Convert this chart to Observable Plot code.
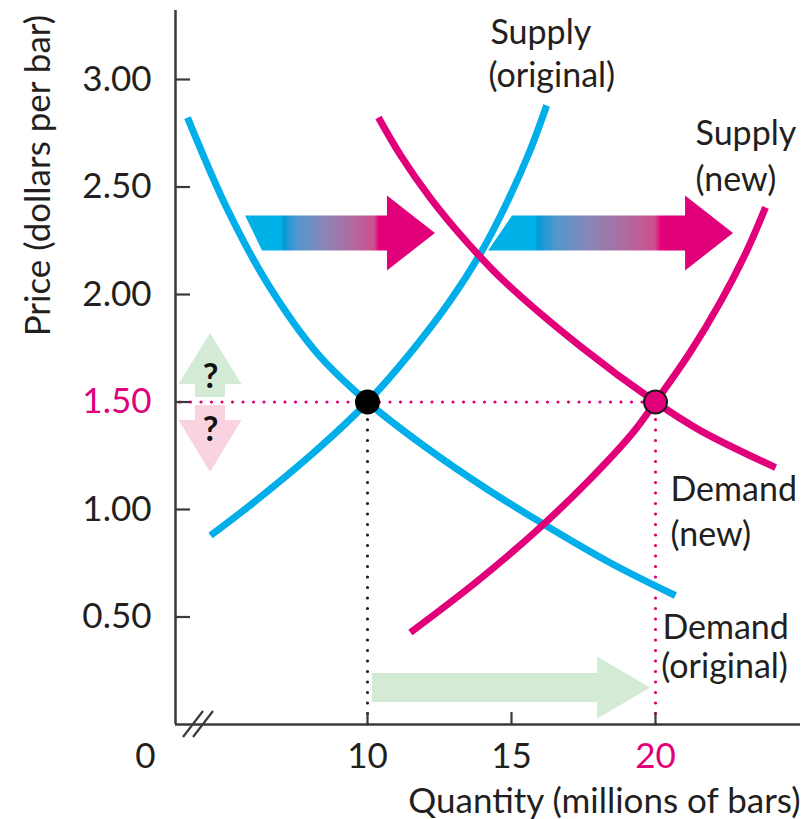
<!DOCTYPE html>
<html><head><meta charset="utf-8">
<script src="https://cdn.jsdelivr.net/npm/d3@7"></script>
<script src="https://cdn.jsdelivr.net/npm/@observablehq/plot@0.6"></script>
<style>body{margin:0;background:#fff} svg{display:block}</style>
</head><body><div id="chart"></div>
<script>
// ---------- data (quantity in millions of bars, price in dollars per bar) ----------
const supplyOrigQ = [4.55, 6.09, 8.18, 10, 11.53, 12.85, 13.96, 14.86, 15.63, 16.22];
const supplyOrigP = [0.879, 1.037, 1.270, 1.5, 1.735, 1.967, 2.2, 2.433, 2.665, 2.879];
const demandOrigQ = [3.75, 5.14, 6.53, 8.26, 10, 12.08, 14.17, 16.25, 18.47, 20.69];
const demandOrigP = [2.823, 2.395, 2.051, 1.726, 1.5, 1.284, 1.093, 0.921, 0.749, 0.6];
const supplyNewQ = [11.49, 13.75, 15.80, 17.62, 19.22, 20, 21.22, 22.26, 23.16, 23.82];
const supplyNewP = [0.428, 0.660, 0.893, 1.126, 1.358, 1.5, 1.735, 1.967, 2.2, 2.405];
const demandNewQ = [10.38, 11.15, 12.19, 13.40, 14.72, 17.40, 20, 21.56, 24.17];
const demandNewP = [2.823, 2.647, 2.447, 2.251, 2.065, 1.758, 1.5, 1.367, 1.195];

const equilibria = [{q: 10, p: 1.5, kind: "original"}, {q: 20, p: 1.5, kind: "new"}];
const yTicks = [0.5, 1.0, 1.5, 2.0, 2.5, 3.0];
const xTicks = [10, 15, 20];
const highlightTick = 1.5, highlightQ = 20;

// shift arrows (from quantity -> to quantity at price)
const shiftFrom = [6.06, 14.62], shiftTo = [12.36, 22.71], shiftPrice = 2.284;
const qtyArrow = {from: 10.17, to: 19.83, price: 0.17};
const priceArrowQ = 4.55;
const priceUp = {from: 1.521, to: 1.819}, priceDown = {from: 1.484, to: 1.172};
const questionP = [1.614, 1.367];

const labels = [
  {q: 14.27, p: 3.214, text: "Supply"}, {q: 14.2, p: 3.014, text: "(original)"},
  {q: 21.39, p: 2.744, text: "Supply"}, {q: 21.39, p: 2.530, text: "(new)"},
  {q: 20.52, p: 1.092, text: "Demand"}, {q: 20.52, p: 0.879, text: "(new)"},
  {q: 20.24, p: 0.447, text: "Demand"}, {q: 20.2, p: 0.265, text: "(original)"}
];
const xTitle = "Quantity (millions of bars)";
const yTitle = "Price (dollars per bar)";

// ---------- styles ----------
const CYAN = "#00AEEA", MAGENTA = "#E2007A", INK = "#231F20", AXIS = "#3a3a3a";
const GREEN = "#D3EAD5", PINK = "#F9D3DF";
const xmin = 10 - 192 / 28.8, xmax = 10 + 433 / 28.8, ymax = 714 / 215;

const toPts = (Q, P) => Q.map((q, i) => ({q, p: P[i]}));
const curves = [
  {pts: toPts(supplyOrigQ, supplyOrigP), color: CYAN},
  {pts: toPts(demandOrigQ, demandOrigP), color: CYAN},
  {pts: toPts(supplyNewQ, supplyNewP), color: MAGENTA},
  {pts: toPts(demandNewQ, demandNewP), color: MAGENTA}
];

const arrowSpecs = [
  {x0: shiftFrom[0], y0: shiftPrice, x1: shiftTo[0], y1: shiftPrice, half: 17.5, headHalf: 37.5, headLen: 48, slant: 8.5, fill: "url(#shiftGrad)"},
  {x0: shiftFrom[1], y0: shiftPrice, x1: shiftTo[1], y1: shiftPrice, half: 17.5, headHalf: 37.5, headLen: 48, slant: -12, fill: "url(#shiftGrad)"},
  {x0: qtyArrow.from, y0: qtyArrow.price, x1: qtyArrow.to, y1: qtyArrow.price, half: 14.5, headHalf: 31, headLen: 53, slant: 0, fill: GREEN},
  {x0: priceArrowQ, y0: priceUp.from, x1: priceArrowQ, y1: priceUp.to, half: 15, headHalf: 31.5, headLen: 51, slant: 0, fill: GREEN},
  {x0: priceArrowQ, y0: priceDown.from, x1: priceArrowQ, y1: priceDown.to, half: 15, headHalf: 31.5, headLen: 52, slant: 0, fill: PINK}
];

function defsMark() {
  const defs = d3.create("svg:defs");
  const g = defs.append("linearGradient").attr("id", "shiftGrad").attr("x1", 0).attr("x2", 1).attr("y1", 0).attr("y2", 0);
  [[0, "#00B1E8"], [0.195, "#00B1E8"], [0.2, "#009AD6"], [0.235, "#2A9AD4"], [0.28, "#5596CC"],
   [0.42, "#8A85B6"], [0.56, "#B06B9F"], [0.68, "#CF4E8E"], [0.705, "#E2007A"], [1, "#E2007A"]]
    .forEach(([o, c]) => g.append("stop").attr("offset", o).attr("stop-color", c));
  return defs.node();
}

function arrowsMark(list) {
  return (index, scales) => {
    const g = d3.create("svg:g");
    for (const a of list) {
      const x0 = scales.x(a.x0), y0 = scales.y(a.y0), x1 = scales.x(a.x1), y1 = scales.y(a.y1);
      const L = Math.hypot(x1 - x0, y1 - y0), ux = (x1 - x0) / L, uy = (y1 - y0) / L, nx = -uy, ny = ux;
      const bx = x1 - a.headLen * ux, by = y1 - a.headLen * uy;
      const pts = [
        [x0 + a.half * nx + a.slant * ux, y0 + a.half * ny + a.slant * uy],
        [bx + a.half * nx, by + a.half * ny],
        [bx + a.headHalf * nx, by + a.headHalf * ny],
        [x1, y1],
        [bx - a.headHalf * nx, by - a.headHalf * ny],
        [bx - a.half * nx, by - a.half * ny],
        [x0 - a.half * nx - a.slant * ux, y0 - a.half * ny - a.slant * uy]
      ];
      g.append("path").attr("d", "M" + pts.map(p => p.join(",")).join("L") + "Z").attr("fill", a.fill);
    }
    return g.node();
  };
}

function axisBreakMark(index, scales) {
  const x0 = scales.x(xmin), y0 = scales.y(0);
  const g = d3.create("svg:g").attr("stroke", AXIS).attr("stroke-width", 2.2);
  [[8, 28], [18, 38]].forEach(([a, b]) =>
    g.append("line").attr("x1", x0 + a).attr("y1", y0 + 13).attr("x2", x0 + b).attr("y2", y0 - 13));
  return g.node();
}

const plotW = 810, plotH = 819, mL = 175, mR = 10, mT = 10, mB = 95;
const FONT = "Lato";
const FS = 35, LFS = 34;

const chart = Plot.plot({
  width: plotW, height: plotH,
  marginLeft: mL, marginRight: mR, marginTop: mT, marginBottom: mB,
  x: {domain: [xmin, xmax], axis: null},
  y: {domain: [0, ymax], axis: null},
  style: {fontFamily: FONT, background: "#fff", overflow: "visible", color: INK},
  marks: [
    defsMark,
    arrowsMark(arrowSpecs),
    Plot.text(questionP, {x: priceArrowQ, y: d => d, text: () => "?", fontSize: 34, fontWeight: "bold", fill: "#111"}),
    // dotted guides
    Plot.ruleY([highlightTick], {x1: xmin, x2: highlightQ, stroke: MAGENTA, strokeWidth: 3.2, strokeDasharray: "0 10.5", strokeLinecap: "round", dx: 5}),
    Plot.ruleX([10], {y1: 0, y2: 1.5, stroke: INK, strokeWidth: 3.2, strokeDasharray: "0 10.5", strokeLinecap: "round"}),
    Plot.ruleX([highlightQ], {y1: 0, y2: 1.5, stroke: MAGENTA, strokeWidth: 3.2, strokeDasharray: "0 10.5", strokeLinecap: "round"}),
    // curves
    ...curves.map(c => Plot.line(c.pts, {x: "q", y: "p", stroke: c.color, strokeWidth: 7, curve: "catmull-rom", strokeLinecap: "butt"})),
    // axes
    Plot.ruleX([xmin], {stroke: AXIS, strokeWidth: 2.5}),
    Plot.ruleY([0], {stroke: AXIS, strokeWidth: 2.5}),
    Plot.tickY(yTicks, {y: d => d, stroke: AXIS, strokeWidth: 2.2, insetRight: plotW - mL - mR - 15}),
    Plot.tickX(xTicks, {x: d => d, stroke: AXIS, strokeWidth: 2.2, insetTop: plotH - mT - mB - 12}),
    axisBreakMark,
    Plot.text(yTicks.filter(d => d !== highlightTick), {x: xmin, y: d => d, text: d => d.toFixed(2), textAnchor: "end", dx: -24, fontSize: FS, fill: INK}),
    Plot.text([highlightTick], {x: xmin, y: d => d, text: d => d.toFixed(2), textAnchor: "end", dx: -24, fontSize: FS, fill: MAGENTA}),
    Plot.text(xTicks.filter(d => d !== highlightQ), {x: d => d, y: 0, dy: 32, text: d => String(d), fontSize: FS, fill: INK}),
    Plot.text([highlightQ], {x: d => d, y: 0, dy: 32, text: d => String(d), fontSize: FS, fill: MAGENTA}),
    Plot.text(["0"], {x: xmin, y: 0, dx: -30, dy: 32, text: d => d, fontSize: FS, fill: INK}),
    Plot.text([xTitle], {x: xmax, y: 0, dy: 77, text: d => d, textAnchor: "end", fontSize: FS, fill: INK}),
    Plot.text([yTitle], {x: xmin, y: 2.553, dx: -137, text: d => d, rotate: -90, fontSize: FS, fill: INK}),
    Plot.text(labels, {x: "q", y: "p", text: "text", textAnchor: "start", fontSize: LFS, fill: INK}),
    // equilibrium points
    Plot.dot(equilibria.filter(d => d.kind === "original"), {x: "q", y: "p", r: 12.5, fill: "#000"}),
    Plot.dot(equilibria.filter(d => d.kind === "new"), {x: "q", y: "p", r: 11.5, fill: MAGENTA, stroke: "#1a1a1a", strokeWidth: 2})
  ]
});
document.getElementById("chart").append(chart);
</script>
</body></html>
